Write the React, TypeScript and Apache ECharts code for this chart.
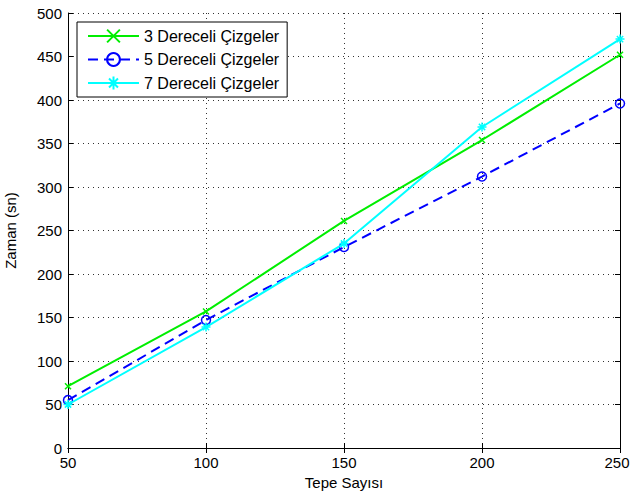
import React, { useEffect, useRef } from "react";
import * as echarts from "echarts";

const tepeSayisi = [50, 100, 150, 200, 250];
const derece3 = [71, 157, 261, 354, 452];
const derece5 = [55, 147, 231, 312, 396];
const derece7 = [50, 139, 235, 369, 470];
const seriesNames = ["3 Dereceli Çizgeler", "5 Dereceli Çizgeler", "7 Dereceli Çizgeler"];

const X_MARK = "path://M0,0 L10,10 M10,0 L0,10";
const STAR_MARK = "path://M5,0 L5,10 M0,5 L10,5 M1.5,1.5 L8.5,8.5 M8.5,1.5 L1.5,8.5";

export default function App() {
  const ref = useRef<HTMLDivElement>(null);
  useEffect(() => {
    if (!ref.current) return;
    const chart = echarts.init(ref.current, undefined, { renderer: "svg" });
    const font = "Liberation Sans, Arial, sans-serif";
    const axisCommon = {
      axisLine: { show: true, lineStyle: { color: "#000", width: 1 } },
      axisTick: { show: true, inside: true, length: 5, lineStyle: { color: "#000" } },
    };
    chart.setOption({
      animation: false,
      backgroundColor: "#fff",
      grid: {
        left: 68,
        top: 13,
        right: 11,
        bottom: 47,
        containLabel: false,
        outerBoundsMode: "none",
      },
      legend: {
        orient: "vertical",
        left: 77,
        top: 22,
        data: seriesNames,
        backgroundColor: "#fff",
        borderColor: "#000",
        borderWidth: 1,
        padding: [6, 8, 6, 10],
        itemWidth: 51,
        itemHeight: 16,
        itemGap: 7.5,
        textStyle: { fontFamily: font, fontSize: 16, color: "#000" },
      },
      xAxis: [
        {
          type: "value",
          min: 50,
          max: 250,
          interval: 50,
          name: "Tepe Sayısı",
          nameLocation: "middle",
          nameGap: 27,
          nameTextStyle: { fontFamily: font, fontSize: 15, color: "#000" },
          ...axisCommon,
          axisLabel: {
            fontFamily: font,
            fontSize: 15,
            color: "#000",
            margin: 7,
            formatter: (v: number) => (v === 250 ? "{e|" + v + "}" : String(v)),
            rich: { e: { fontFamily: font, fontSize: 15, color: "#000", padding: [0, 6, 0, 0] } },
          },
          splitLine: { show: true, lineStyle: { type: [1, 4], color: "#333", width: 1 } },
        },
        {
          type: "value",
          position: "top",
          min: 50,
          max: 250,
          interval: 50,
          ...axisCommon,
          axisLabel: { show: false },
          splitLine: { show: false },
        },
      ],
      yAxis: [
        {
          type: "value",
          min: 0,
          max: 500,
          interval: 50,
          name: "Zaman (sn)",
          nameLocation: "middle",
          nameGap: 50,
          nameTextStyle: { fontFamily: font, fontSize: 15, color: "#000" },
          ...axisCommon,
          axisLabel: { fontFamily: font, fontSize: 15, color: "#000", margin: 6 },
          splitLine: { show: true, lineStyle: { type: [1, 4], color: "#333", width: 1 } },
        },
        {
          type: "value",
          position: "right",
          min: 0,
          max: 500,
          interval: 50,
          ...axisCommon,
          axisLabel: { show: false },
          splitLine: { show: false },
        },
      ],
      series: [
        {
          name: seriesNames[0],
          type: "line",
          data: tepeSayisi.map((x, i) => [x, derece3[i]]),
          symbol: X_MARK,
          symbolSize: 6,
          lineStyle: { color: "#00ee00", width: 2 },
          itemStyle: { color: "#00ee00", borderColor: "#00ee00", borderWidth: 1.5 },
          z: 3,
        },
        {
          name: seriesNames[1],
          type: "line",
          data: tepeSayisi.map((x, i) => [x, derece5[i]]),
          symbol: "circle",
          symbolSize: 9,
          lineStyle: { color: "#0000ff", width: 2, type: [10, 6] },
          itemStyle: { color: "rgba(255,255,255,0)", borderColor: "#0000ff", borderWidth: 1.5 },
          z: 4,
        },
        {
          name: seriesNames[2],
          type: "line",
          data: tepeSayisi.map((x, i) => [x, derece7[i]]),
          symbol: STAR_MARK,
          symbolSize: 9,
          lineStyle: { color: "#00ffff", width: 2 },
          itemStyle: { color: "#00ffff", borderColor: "#00ffff", borderWidth: 1.5 },
          z: 5,
        },
      ],
    });
    return () => chart.dispose();
  }, []);
  return (
    <div
      ref={ref}
      style={{ position: "fixed", left: 0, top: 0, width: 631, height: 495 }}
    />
  );
}
